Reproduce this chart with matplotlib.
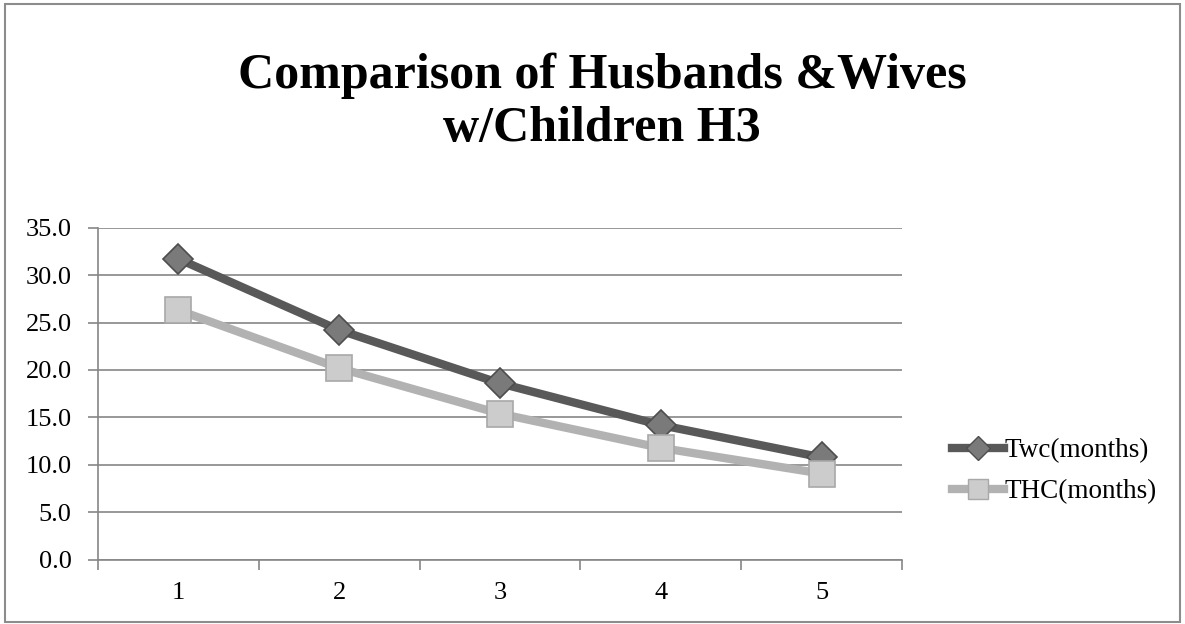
"""Comparison of husbands & wives with children (H3) line chart."""

import matplotlib.pyplot as plt
from matplotlib.lines import Line2D
from matplotlib.patches import Rectangle

periods = [1, 2, 3, 4, 5]
twc_months = [31.7, 24.2, 18.6, 14.2, 10.8]
thc_months = [26.3, 20.2, 15.4, 11.8, 9.1]
series_labels = ["Twc(months)", "THC(months)"]
y_ticks = [0, 5, 10, 15, 20, 25, 30, 35]

GRID = "#868686"
SERIF = ["Liberation Serif", "DejaVu Serif"]

plt.rcParams["font.family"] = SERIF

fig = plt.figure(figsize=(11.85, 6.24), dpi=100)
fig.patches.append(Rectangle((0.004, 0.004), 0.992, 0.99, transform=fig.transFigure,
                             fill=False, edgecolor="#8c8c8c", linewidth=1.5))

ax = fig.add_axes([0.0827, 0.1026, 0.6784, 0.5328])

ax.plot(periods, twc_months, color="#595959", linewidth=6, marker="D", markersize=15,
        markerfacecolor="#7a7a7a", markeredgecolor="#4d4d4d", markeredgewidth=1.2,
        label=series_labels[0], zorder=3)
ax.plot(periods, thc_months, color="#b2b2b2", linewidth=6, marker="s", markersize=19,
        markerfacecolor="#cccccc", markeredgecolor="#a8a8a8", markeredgewidth=1.2,
        label=series_labels[1], zorder=4)

ax.set_xlim(0.5, 5.5)
ax.set_ylim(0, 35)
ax.set_yticks(y_ticks)
ax.set_yticklabels([f"{v:.1f}" for v in y_ticks])
ax.set_xticks(periods)
ax.set_xticks([p + 0.5 for p in [0] + periods], minor=True)
ax.tick_params(axis="x", which="major", length=0, pad=16, labelsize=19)
ax.tick_params(axis="x", which="minor", length=7, width=1.2, color=GRID)
ax.tick_params(axis="y", length=7, width=1.2, color=GRID, labelsize=19, pad=12)

ax.grid(axis="y", color=GRID, linewidth=1.2)
ax.set_axisbelow(True)
for side in ["top", "right"]:
    ax.spines[side].set_visible(False)
for side in ["left", "bottom"]:
    ax.spines[side].set_color(GRID)
    ax.spines[side].set_linewidth(1.2)

fig.text(0.508, 0.836, "Comparison of Husbands &Wives\nw/Children H3", ha="center",
         va="center", fontsize=36, fontweight="bold", linespacing=1.2)

handles = [
    Line2D([], [], color="#595959", linewidth=6, marker="D", markersize=12,
           markerfacecolor="#7a7a7a", markeredgecolor="#4d4d4d"),
    Line2D([], [], color="#b2b2b2", linewidth=6, marker="s", markersize=14,
           markerfacecolor="#cccccc", markeredgecolor="#a8a8a8"),
]
fig.legend(handles, series_labels, loc="center left", bbox_to_anchor=(0.792, 0.245),
           frameon=False, fontsize=19.5, handlelength=1.9, handletextpad=0.05,
           labelspacing=0.6, borderpad=0)

fig.savefig("out.png", dpi=100)
